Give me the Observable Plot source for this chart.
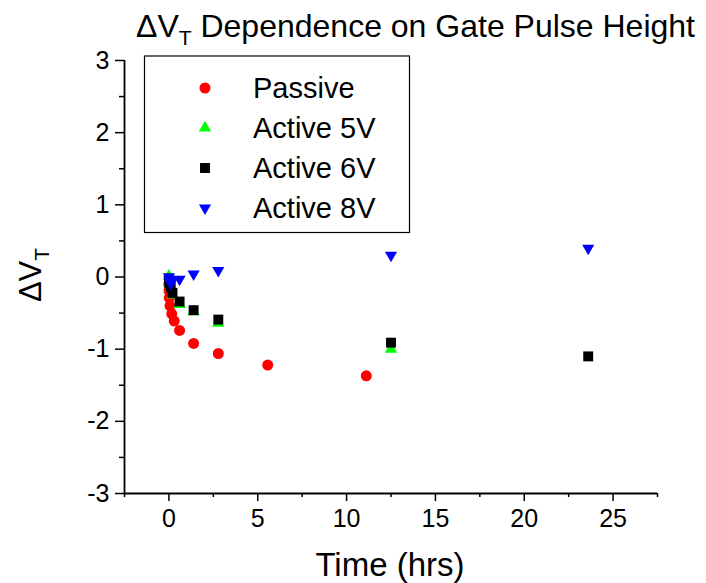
<!DOCTYPE html>
<html><head><meta charset="utf-8">
<script src="https://cdn.jsdelivr.net/npm/d3@7"></script>
<script src="https://cdn.jsdelivr.net/npm/@observablehq/plot@0.6"></script>
<style>
body{margin:0;background:#fff;}
#chart{position:relative;width:706px;height:583px;}
</style>
</head><body><div id="chart"></div>
<script>
// ---- data ----
const seriesNames = ["Passive", "Active 5V", "Active 6V", "Active 8V"];
const seriesColors = ["#ff0000", "#00ff00", "#000000", "#0000ff"];

const passiveTime = [0, 0.005, 0.02, 0.06, 0.16, 0.3, 0.6, 1.39, 2.78, 5.56, 11.11];
const passiveDVT  = [-0.10, -0.19, -0.29, -0.40, -0.51, -0.61, -0.74, -0.92, -1.06, -1.22, -1.37];

const active5Time = [0, 0.02, 0.1, 0.2, 0.6, 1.39, 2.78, 12.5];
const active5DVT  = [0.01, -0.09, -0.16, -0.25, -0.38, -0.48, -0.64, -1.00];

const active6Time = [0, 0.02, 0.1, 0.2, 0.6, 1.39, 2.78, 12.5, 23.6];
const active6DVT  = [-0.02, -0.08, -0.14, -0.22, -0.34, -0.46, -0.59, -0.91, -1.10];

const active8Time = [0, 0.02, 0.1, 0.2, 0.6, 1.39, 2.78, 12.5, 23.6];
const active8DVT  = [0.00, -0.04, -0.09, -0.05, -0.03, 0.04, 0.09, 0.30, 0.40];

const xMajorTicks = [0, 5, 10, 15, 20, 25];
const xMinorTicks = [-2.5, 2.5, 7.5, 12.5, 17.5, 22.5, 27.5];
const yMajorTicks = [-3, -2, -1, 0, 1, 2, 3];
const yMinorTicks = [-2.5, -1.5, -0.5, 0.5, 1.5, 2.5];
const xDomain = [-2.5, 27.5];
const yDomain = [-3, 3];

// ---- symbols ----
const sqrt3 = Math.sqrt(3);
const triangleDown = {
  draw(ctx, size) {
    const y = Math.sqrt(size / (sqrt3 * 3));
    ctx.moveTo(0, 2 * y);
    ctx.lineTo(-sqrt3 * y, -y);
    ctx.lineTo(sqrt3 * y, -y);
    ctx.closePath();
  }
};
const seriesSymbols = [d3.symbolCircle, d3.symbolTriangle, d3.symbolSquare, triangleDown];
const seriesR = [5.5, 4.6, 5.6, 4.5];

const table = (t, v) => t.map((d, i) => ({t: d, v: v[i]}));
const seriesData = [
  table(passiveTime, passiveDVT),
  table(active5Time, active5DVT),
  table(active6Time, active6DVT),
  table(active8Time, active8DVT)
];

const FONT = "'Liberation Sans', Arial, Helvetica, sans-serif";

const plot = Plot.plot({
  width: 706,
  height: 583,
  marginLeft: 124,
  marginRight: 49,
  marginTop: 60,
  marginBottom: 90,
  x: {domain: xDomain},
  y: {domain: yDomain},
  style: {fontFamily: FONT, fontSize: "25px", color: "#000", background: "#fff", overflow: "visible"},
  marks: [
    Plot.axisX({ticks: xMajorTicks, tickSize: 8, tickPadding: 8, tickFormat: d => String(d), label: null, strokeWidth: 1.5}),
    Plot.axisX({ticks: xMinorTicks, tickSize: 4, text: null, label: null, strokeWidth: 1.5}),
    Plot.axisY({ticks: yMajorTicks, tickSize: 9, tickPadding: 6, tickFormat: d => String(d), label: null, strokeWidth: 1.5}),
    Plot.axisY({ticks: yMinorTicks, tickSize: 5, text: null, label: null, strokeWidth: 1.5}),
    Plot.ruleX([xDomain[0]], {y1: yDomain[0], y2: yDomain[1], strokeWidth: 1.8}),
    Plot.ruleY([yDomain[0]], {x1: xDomain[0], x2: xDomain[1], strokeWidth: 1.8}),
    ...seriesData.map((data, i) => Plot.dot(data, {
      x: "t", y: "v", r: seriesR[i], symbol: seriesSymbols[i],
      fill: seriesColors[i], stroke: "none"
    }))
  ]
});

const container = document.getElementById("chart");
container.appendChild(plot);

const svg = d3.select(plot);
// make sure tick labels use the large font
svg.selectAll('g[aria-label$="tick label"]')
  .attr("font-size", 25).style("font-size", "25px").attr("font-family", FONT);

// Title
const title = svg.append("text")
  .attr("x", 136).attr("y", 37)
  .attr("text-anchor", "start")
  .attr("font-family", FONT).attr("font-size", 32).attr("fill", "#000");
title.append("tspan").text("ΔV");
title.append("tspan").attr("font-size", 21).attr("dy", 8).text("T");
title.append("tspan").attr("dy", -8).text(" Dependence on Gate Pulse Height");

// X label
svg.append("text")
  .attr("x", 390).attr("y", 576)
  .attr("text-anchor", "middle")
  .attr("font-family", FONT).attr("font-size", 33).attr("fill", "#000")
  .text("Time (hrs)");

// Y label
const ylab = svg.append("text")
  .attr("transform", "translate(41,275) rotate(-90)")
  .attr("text-anchor", "middle")
  .attr("font-family", FONT).attr("font-size", 31).attr("fill", "#000");
ylab.append("tspan").text("ΔV");
ylab.append("tspan").attr("font-size", 21).attr("dy", 8).text("T");

// Legend
const lg = svg.append("g");
lg.append("rect")
  .attr("x", 144.5).attr("y", 56).attr("width", 265).attr("height", 176.5)
  .attr("fill", "#fff").attr("stroke", "#000").attr("stroke-width", 1.2);
seriesNames.forEach((name, i) => {
  const cy = 88 + i * 40;
  lg.append("path")
    .attr("transform", `translate(205,${cy})`)
    .attr("d", d3.symbol(seriesSymbols[i], seriesR[i] * seriesR[i] * Math.PI)())
    .attr("fill", seriesColors[i]);
  lg.append("text")
    .attr("x", 253).attr("y", cy + 10)
    .attr("text-anchor", "start")
    .attr("font-family", FONT).attr("font-size", 29).attr("fill", "#000")
    .text(name);
});
</script>
</body></html>
